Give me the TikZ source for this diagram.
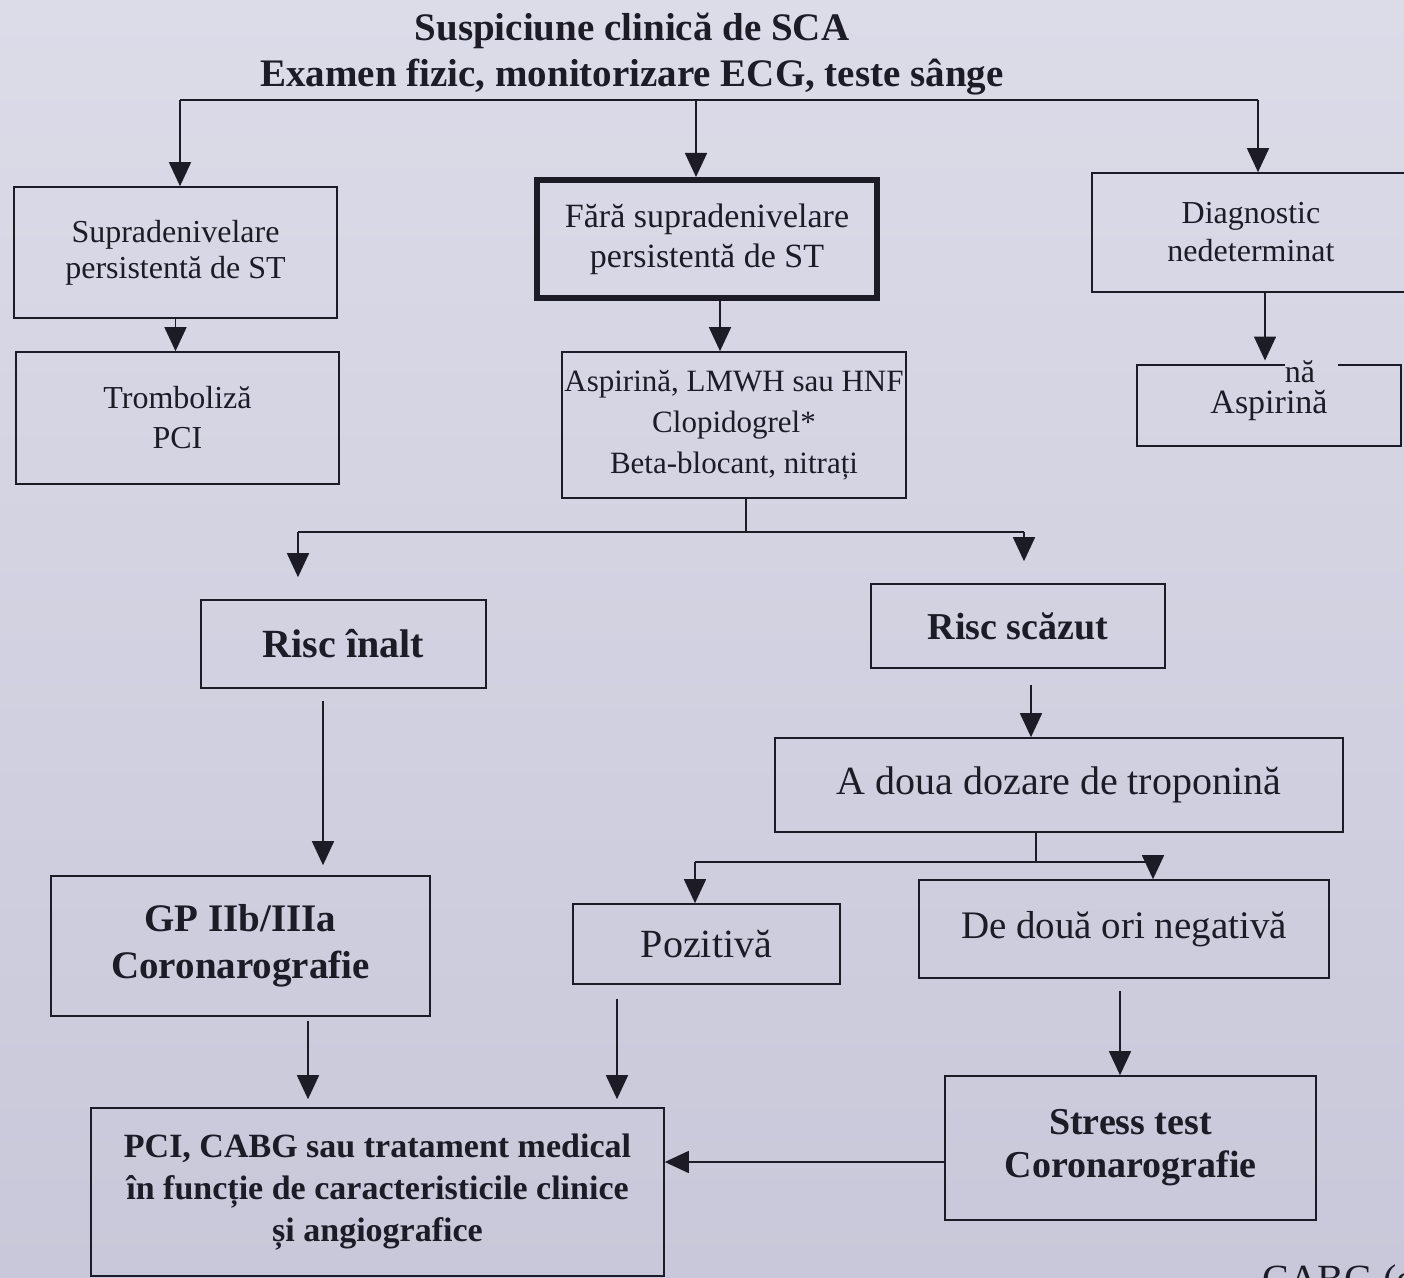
\documentclass[tikz,border=0pt]{standalone}
\usepackage{fontspec}
\setmainfont{Liberation Serif}
\usetikzlibrary{arrows.meta,calc}
\definecolor{papertop}{HTML}{DCDBE8}
\definecolor{paperbot}{HTML}{C9C8DA}
\definecolor{ink}{HTML}{1C1B26}
\begin{document}
\begin{tikzpicture}[x=0.5pt,y=-0.5pt,
  box/.style={draw=ink, line width=0.8pt, align=center, text=ink, inner sep=0pt},
  thickbox/.style={box, line width=3pt},
  arr/.style={draw=ink, line width=0.8pt, -{Triangle[width=11pt,length=12pt]}},
  ln/.style={draw=ink, line width=0.8pt},
  fs/.style 2 args={font=\fontsize{#1}{#2}\selectfont},
  fb/.style 2 args={font=\fontsize{#1}{#2}\selectfont\bfseries}
]
\clip (0,0) rectangle (1404,1278);
\shade[top color=papertop, bottom color=paperbot] (0,0) rectangle (1404,1278);

% title
\node[text=ink, align=center, fb={19.5}{23}] (title) at (632,54)
  {Suspiciune clinică de SCA\\Examen fizic, monitorizare ECG, teste sânge};

% boxes
\node[box, fs={16}{18}, minimum width=161.5pt, minimum height=65.5pt] (supra) at (175.5,252.5)
  {Supradenivelare\\persistentă de ST};
\node[thickbox, fs={17}{20}, minimum width=170pt, minimum height=59pt] (fara) at (707,239)
  {Fără supradenivelare\\persistentă de ST};
\node[box, fs={16}{19}, minimum width=159pt, minimum height=59.5pt, text width=150pt] (diag) at (1251,232.5)
  {Diagnostic\\nedeterminat};
\node[box, fs={16}{20}, minimum width=161.5pt, minimum height=66pt] (tromb) at (177.5,418)
  {Tromboliză\\PCI};
\node[box, fs={15.5}{20.5}, minimum width=172pt, minimum height=73pt] (asp) at (734,425)
  {Aspirină, LMWH sau HNF\\Clopidogrel*\\Beta-blocant, nitrați};
\node[draw=none, text=ink, fs={17}{20}, minimum width=132pt, minimum height=40.5pt, inner sep=0pt] (asp2) at (1269,405.5)
  {Aspirină};
\node[text=ink, fs={16}{18}, inner sep=0pt] (na) at (1300,372) {nă};
\draw[ln] (1285,365) -- (1137,365) -- (1137,446) -- (1401,446) -- (1401,365) -- (1338,365);

\node[box, fb={20}{22}, minimum width=142.5pt, minimum height=44pt] (rinalt) at (343.5,644) {Risc înalt};
\node[box, fb={19}{22}, minimum width=147pt, minimum height=42pt] (rscazut) at (1018,626) {Risc scăzut};
\node[box, fs={20}{22}, minimum width=284pt, minimum height=47pt] (doua) at (1059,785) {A doua dozare de troponină};
\node[box, fs={20}{22}, minimum width=133.5pt, minimum height=40pt] (poz) at (706.5,944) {Pozitivă};
\node[box, fs={19.5}{22}, minimum width=205pt, minimum height=49pt] (neg) at (1124,929) {De două ori negativă};
\node[box, fb={19.5}{23.5}, minimum width=189.5pt, minimum height=70pt] (gp) at (240.5,946)
  {GP IIb/IIIa\\Coronarografie};
\node[box, fb={17}{21}, minimum width=286.5pt, minimum height=84pt] (pci) at (377.5,1192)
  {PCI, CABG sau tratament medical\\în funcție de caracteristicile clinice\\și angiografice};
\node[box, fb={19}{21.5}, minimum width=185.5pt, minimum height=72pt] (stress) at (1130.5,1148)
  {Stress test\\Coronarografie};

\node[text=ink, fs={20}{22}, anchor=base west, inner sep=0pt] (cabg) at (1262,1292) {CABG (c};

% connectors: top bus
\coordinate (busL) at (180,100);
\coordinate (busM) at (696,100);
\coordinate (busR) at (1258,100);
\draw[ln] (busL) -- (busR);
\draw[arr] (busL) -- (supra.north -| busL);
\draw[arr] (busM) -- (fara.north -| busM);
\draw[arr] (busR) -- (diag.north -| busR);

\draw[arr] (supra.south) -- (tromb.north -| supra.south);
\draw[arr] ([xshift=6.5pt]fara.south) -- ([xshift=6.5pt]fara.south |- asp.north);
\draw[arr] ([xshift=7pt]diag.south) -- ([xshift=7pt]diag.south |- na.north);

% split below treatment box
\coordinate (j1) at (746,532);
\coordinate (j1L) at (298,532);
\coordinate (j1R) at (1024,532);
\draw[ln] (j1 |- asp.south) -- (j1);
\draw[ln] (j1L) -- (j1R);
\draw[arr, shorten >=11pt] (j1L) -- (j1L |- rinalt.north);
\draw[arr, shorten >=11pt] (j1R) -- (j1R |- rscazut.north);

% risk high -> GP
\coordinate (c1) at (323,700);
\draw[arr, shorten <=6pt, shorten >=5pt] (c1 |- rinalt.south) -- (c1 |- gp.north);
% risk low -> troponin
\coordinate (c2) at (1031,690);
\draw[arr, shorten <=8pt] (c2 |- rscazut.south) -- (c2 |- doua.north);

% split below troponin
\coordinate (j2) at (1036,862);
\coordinate (j2L) at (695,862);
\coordinate (j2R) at (1153,862);
\draw[ln] (j2 |- doua.south) -- (j2);
\draw[ln] (j2L) -- (j2R);
\draw[arr] (j2L) -- (j2L |- poz.north);
\draw[arr] (j2R) -- (j2R |- neg.north);

% to final boxes
\coordinate (c3) at (308,1060);
\draw[arr, shorten <=2pt, shorten >=4pt] (c3 |- gp.south) -- (c3 |- pci.north);
\coordinate (c4) at (617,1060);
\draw[arr, shorten <=7pt, shorten >=4pt] (c4 |- poz.south) -- (c4 |- pci.north);
\coordinate (c5) at (1120,1030);
\draw[arr, shorten <=6pt] (c5 |- neg.south) -- (c5 |- stress.north);
\coordinate (c6) at (800,1162);
\draw[arr] (stress.west |- c6) -- (pci.east |- c6);
\end{tikzpicture}
\end{document}
